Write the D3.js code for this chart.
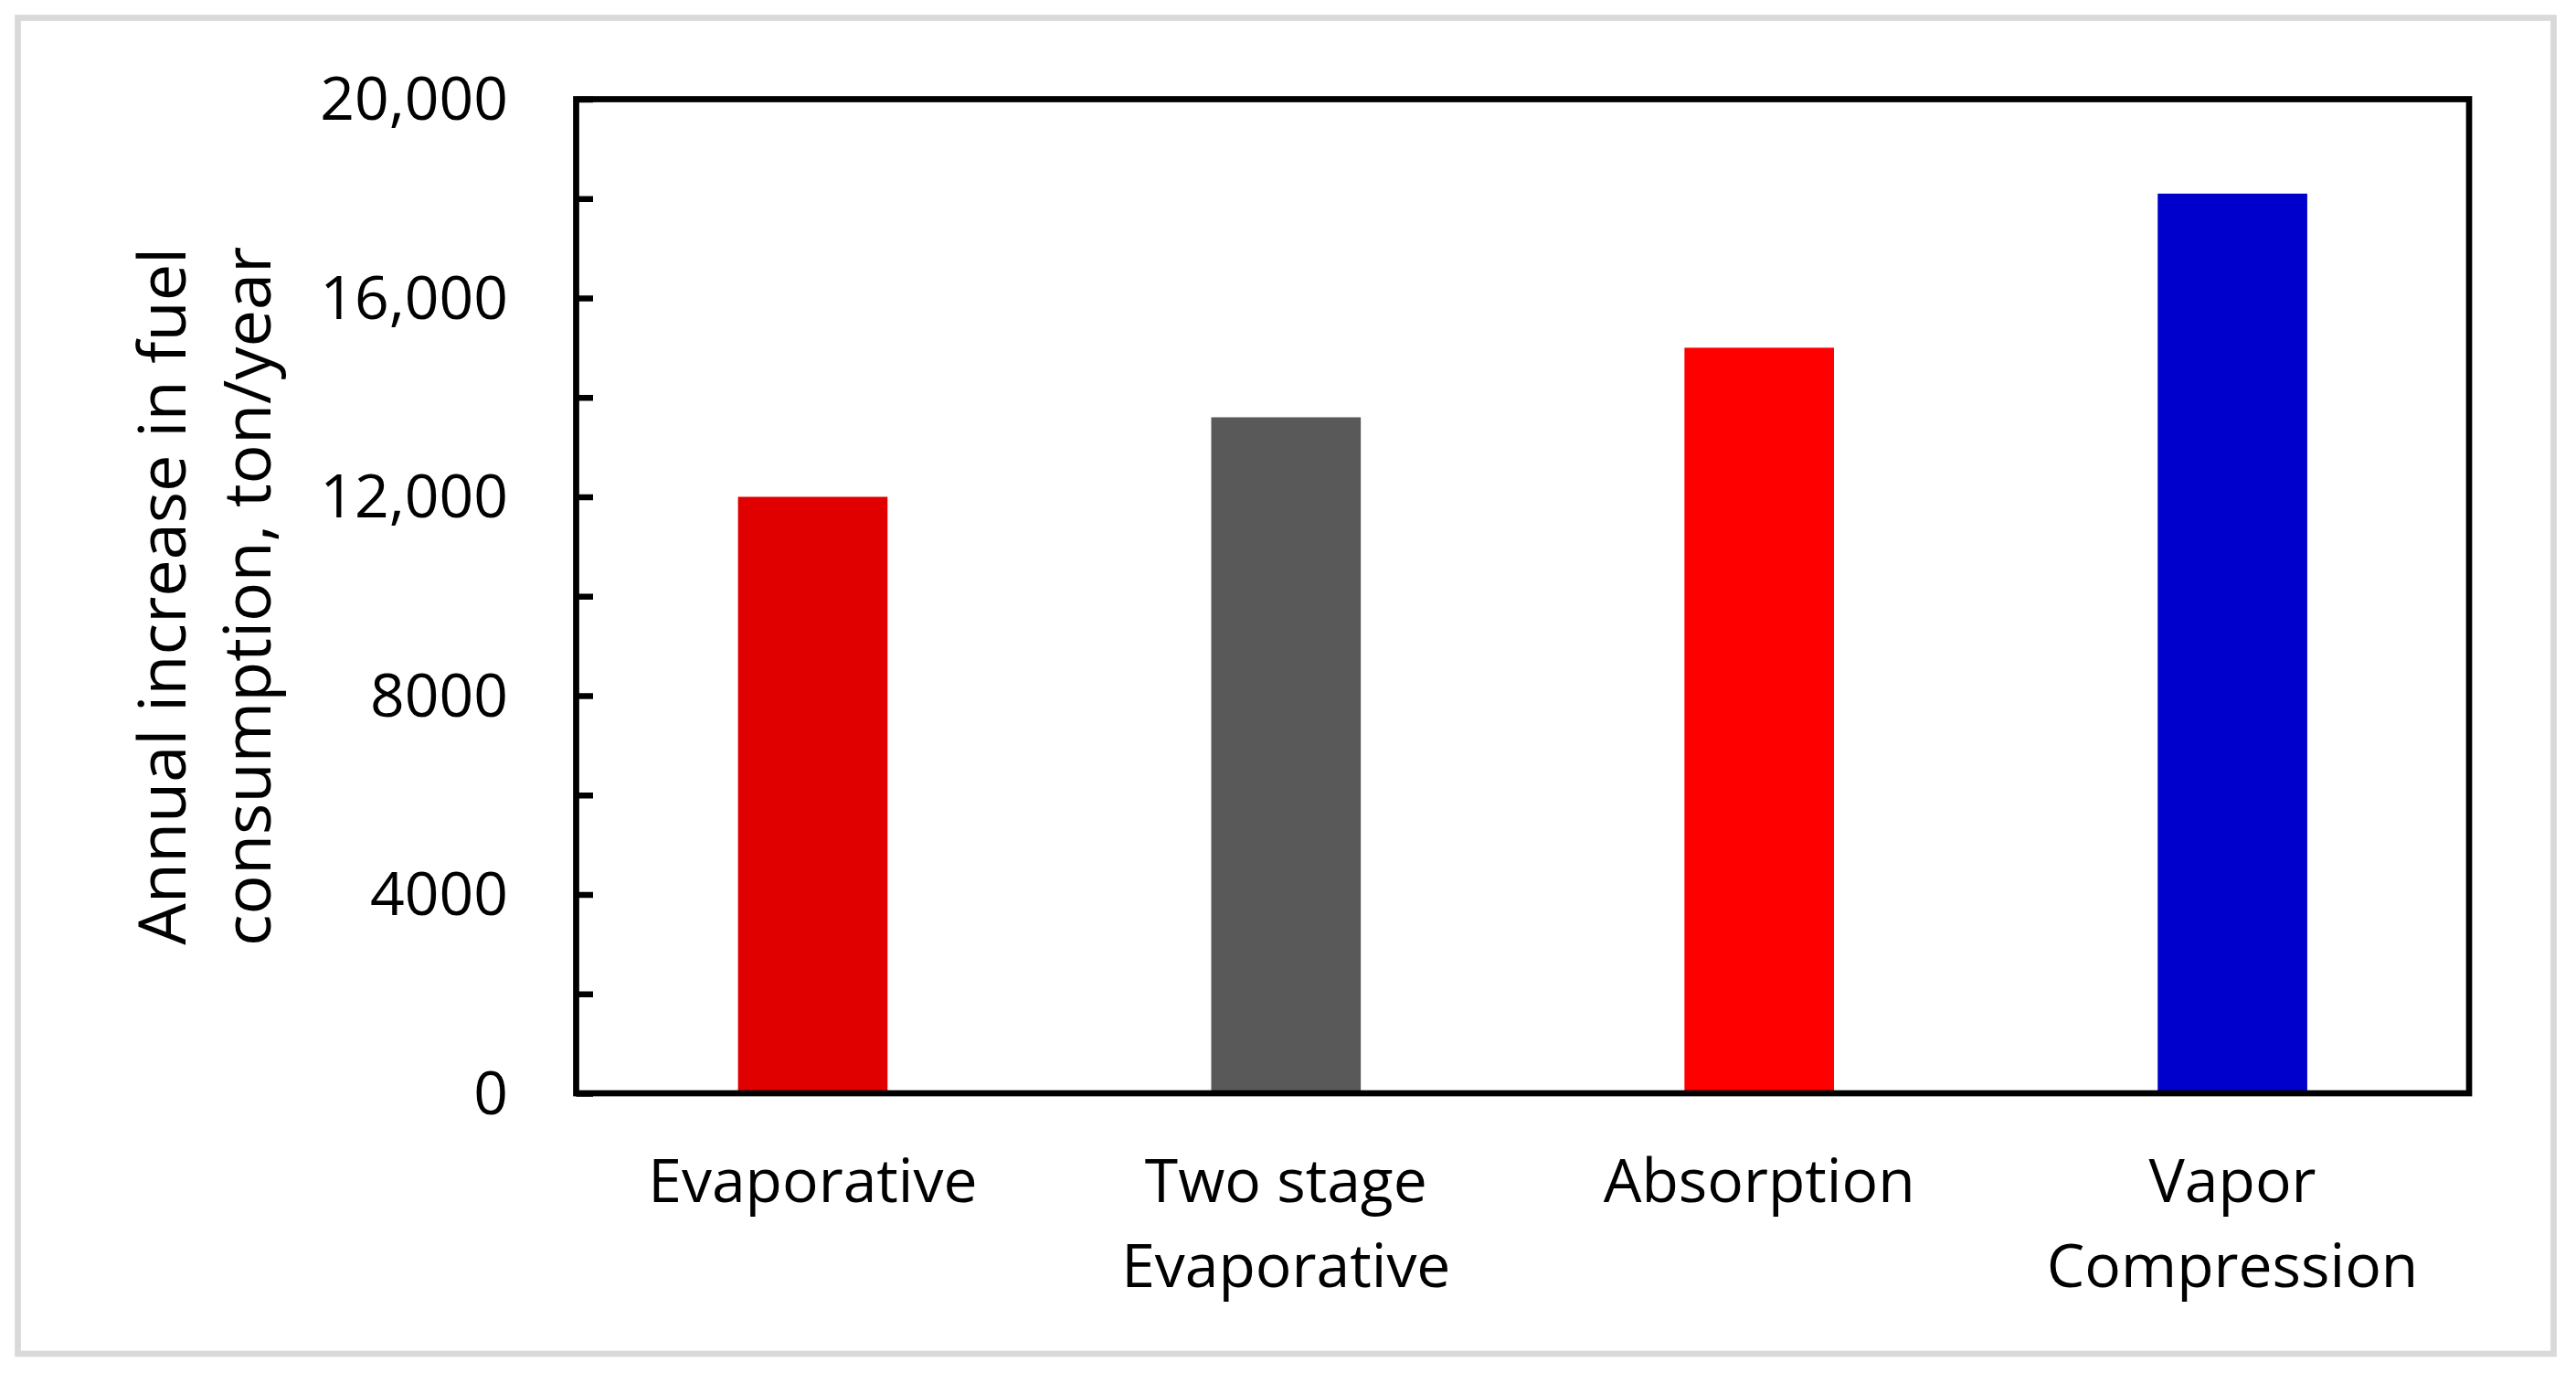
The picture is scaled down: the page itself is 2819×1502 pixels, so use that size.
<!DOCTYPE html>
<html>
<head>
<meta charset="utf-8">
<script src="https://cdn.jsdelivr.net/npm/d3@7"></script>
<style>
  html, body { margin: 0; padding: 0; background: #ffffff; }
  svg { display: block; }
</style>
</head>
<body>
<svg id="chart" width="2819" height="1502"></svg>
<script>
// ---- data ----
const categories = ["Evaporative", "Two stage Evaporative", "Absorption", "Vapor Compression"];
const categoryLines = [["Evaporative"], ["Two stage", "Evaporative"], ["Absorption"], ["Vapor", "Compression"]];
const values = [12000, 13600, 15000, 18100];
const barColors = ["#e00000", "#595959", "#ff0000", "#0000cc"];
const tickValues = [0, 2000, 4000, 6000, 8000, 10000, 12000, 14000, 16000, 18000, 20000];
const labeledTicks = [0, 4000, 8000, 12000, 16000, 20000];
const tickLabels = ["0", "4000", "8000", "12,000", "16,000", "20,000"];
const yTitleLines = ["Annual increase in fuel", "consumption, ton/year"];

// ---- layout ----
const W = 2819, H = 1502;
const plot = { left: 630.5, right: 2702, top: 108.5, bottom: 1196 };
const font = "'Open Sans', 'Noto Sans', sans-serif";

const svg = d3.select("#chart");

// outer light-gray frame
svg.append("rect")
  .attr("x", 19.5).attr("y", 19.5)
  .attr("width", 2794.5 - 19.5).attr("height", 1481 - 19.5)
  .attr("fill", "#ffffff")
  .attr("stroke", "#d9d9d9").attr("stroke-width", 6.7);

const x = d3.scaleBand()
  .domain(categories)
  .range([plot.left, plot.right])
  .paddingInner(0.684)
  .paddingOuter(0.342);

const y = d3.scaleLinear()
  .domain([0, 20000])
  .range([plot.bottom, plot.top]);

// bars
svg.append("g").selectAll("rect")
  .data(values)
  .join("rect")
  .attr("x", (d, i) => x(categories[i]))
  .attr("y", d => y(d))
  .attr("width", x.bandwidth())
  .attr("height", d => y(0) - y(d))
  .attr("fill", (d, i) => barColors[i]);

// y axis with inward ticks
const labelOf = v => {
  const k = labeledTicks.indexOf(v);
  return k >= 0 ? tickLabels[k] : "";
};
const yAxis = d3.axisLeft(y)
  .tickValues(tickValues)
  .tickSize(-18.5)
  .tickPadding(plot.left - 556)
  .tickFormat(labelOf);

const gy = svg.append("g")
  .attr("transform", `translate(${plot.left},0)`)
  .call(yAxis);
gy.select(".domain").remove();
gy.selectAll(".tick line").attr("stroke", "#000").attr("stroke-width", 6.5);
gy.selectAll(".tick text")
  .attr("fill", "#000")
  .attr("font-family", font)
  .attr("font-size", 66)
  .attr("dy", "0.34em");

// plot frame
svg.append("rect")
  .attr("x", plot.left).attr("y", plot.top)
  .attr("width", plot.right - plot.left).attr("height", plot.bottom - plot.top)
  .attr("fill", "none")
  .attr("stroke", "#000").attr("stroke-width", 6.7);

// x labels
const xl = svg.append("g").selectAll("text")
  .data(categories)
  .join("text")
  .attr("x", d => x(d) + x.bandwidth() / 2)
  .attr("y", 1315)
  .attr("text-anchor", "middle")
  .attr("font-family", font)
  .attr("font-size", 66)
  .attr("fill", "#000");
xl.each(function(d, i) {
  const t = d3.select(this);
  categoryLines[i].forEach((line, j) => {
    t.append("tspan")
      .attr("x", x(d) + x.bandwidth() / 2)
      .attr("dy", j === 0 ? 0 : 93)
      .text(line);
  });
});

// y title (rotated)
const cy = (plot.top + plot.bottom) / 2;
const titleBaselines = [203, 296];
svg.append("g").selectAll("text")
  .data(yTitleLines)
  .join("text")
  .attr("transform", (d, i) => `translate(${titleBaselines[i]},${cy}) rotate(-90)`)
  .attr("text-anchor", "middle")
  .attr("font-family", font)
  .attr("font-size", 72)
  .attr("fill", "#000")
  .text(d => d);
</script>
</body>
</html>
